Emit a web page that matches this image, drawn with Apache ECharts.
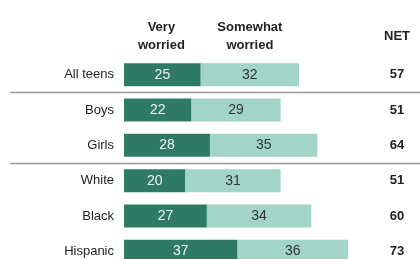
<!doctype html>
<html>
<head>
<meta charset="utf-8">
<title>teens worried</title>
<style>
	html,body{height:100%;padding:0;margin:0;background:#fff;}
	#chart{width:420px;height:259px;}
</style>
</head>
<body>
<div id="chart"></div>
<script src="https://cdn.jsdelivr.net/npm/echarts@6/dist/echarts.min.js"></script>
<script>
var groups = ['All teens', 'Boys', 'Girls', 'White', 'Black', 'Hispanic'];
var veryWorried = [25, 22, 28, 20, 27, 37];
var somewhatWorried = [32, 29, 35, 31, 34, 36];
var netValues = [57, 51, 64, 51, 60, 73];
var headers = ['Very\nworried', 'Somewhat\nworried', 'NET'];
// rows after which a divider line is drawn
var dividerAfter = [0, 2];

var chart = echarts.init(document.getElementById('chart'));
var font = '"Liberation Sans", Arial, sans-serif';

var option = {
	animation: false,
	grid: {left: 124, top: 57, width: 230, height: 212, outerBoundsMode: 'none', containLabel: false},
	xAxis: {type: 'value', min: 0, max: 230 / 3.07, show: false},
	yAxis: [{
		type: 'category',
		inverse: true,
		data: groups,
		axisLine: {show: false},
		axisTick: {show: false},
		axisLabel: {fontFamily: font, fontSize: 13, color: '#222', margin: 10}
	}, {
		type: 'category',
		inverse: true,
		position: 'right',
		data: netValues,
		axisLine: {show: false},
		axisTick: {show: false},
		axisLabel: {fontFamily: font, fontSize: 13, fontWeight: 'bold', color: '#222', margin: 43, align: 'center'}
	}],
	series: [{
		type: 'bar',
		stack: 'w',
		data: veryWorried,
		barWidth: 23,
		itemStyle: {color: '#2f7a65'},
		label: {show: true, position: 'inside', color: '#eef4f1', fontFamily: font, fontSize: 14}
	}, {
		type: 'bar',
		stack: 'w',
		data: somewhatWorried,
		barWidth: 23,
		itemStyle: {color: '#a2d5c7'},
		label: {show: true, position: 'inside', color: '#333', fontFamily: font, fontSize: 14}
	}]
};
chart.setOption(option);

// header texts and divider lines placed from the axis scale
var graphics = [];
var x0 = chart.convertToPixel({xAxisIndex: 0}, 0);
var x1 = chart.convertToPixel({xAxisIndex: 0}, veryWorried[0]);
var x2 = chart.convertToPixel({xAxisIndex: 0}, veryWorried[0] + somewhatWorried[0]);
var headX = [(x0 + x1) / 2 - 1, (x1 + x2) / 2, 397];
for (var i = 0; i < headers.length; i++) {
	graphics.push({
		type: 'text', x: headX[i], y: 36,
		style: {text: headers[i], fontFamily: font, fontSize: 13, fontWeight: 'bold', fill: '#222',
			align: 'center', verticalAlign: 'middle', lineHeight: 18}
	});
}
var c0 = chart.convertToPixel({yAxisIndex: 0}, groups[0]);
var c1 = chart.convertToPixel({yAxisIndex: 0}, groups[1]);
var band = c1 - c0;
dividerAfter.forEach(function (r) {
	var y = Math.round(c0 + band * (r + 0.5)) + 0.5;
	graphics.push({type: 'line', shape: {x1: 10, y1: y, x2: 420, y2: y}, style: {stroke: '#9a9a9a', lineWidth: 1.5}});
});
chart.setOption({graphic: graphics});
</script>
</body>
</html>
